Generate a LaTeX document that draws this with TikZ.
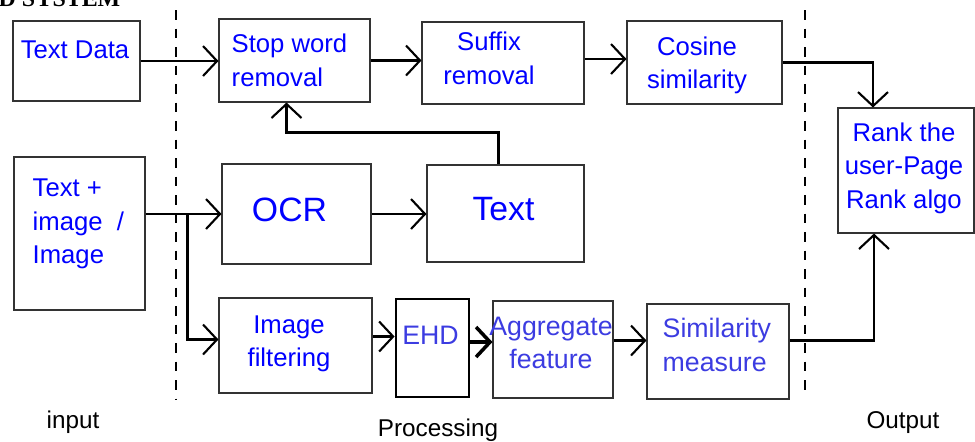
\documentclass[tikz,border=0pt]{standalone}
\usepackage{fontspec}
\setmainfont{Liberation Sans}
\newfontfamily\headfont{Liberation Serif}
\usetikzlibrary{arrows.meta,calc}
\definecolor{softblue}{RGB}{60,60,225}
\tikzset{
	box/.style 2 args={draw=black!80, line width=0.3pt, minimum width=#1*0.01cm, minimum height=#2*0.01cm, inner sep=0pt},
	txt/.style={text=blue, font=\fontsize{7.3pt}{9.5pt}\selectfont, inner sep=0pt, align=center},
	bigtxt/.style={text=blue, font=\fontsize{9.6pt}{11pt}\selectfont, inner sep=0pt},
	lowtxt/.style={txt, text=softblue, font=\fontsize{7.6pt}{9.5pt}\selectfont},
	arr/.style={line width=0.6pt, -{Straight Barb[length=1.4mm, width=3mm]}},
	divider/.style={line width=0.35pt, dash pattern=on 0.95mm off 0.9mm},
	lbl/.style={font=\fontsize{6.9pt}{8pt}\selectfont, inner sep=0pt}
}
\begin{document}
\begin{tikzpicture}[x=0.01cm,y=-0.01cm]
	
	\useasboundingbox (0,0) rectangle (975,441);
	\clip (0,0) rectangle (975,441);
	
	\node[anchor=base east, inner sep=0pt, font=\headfont\bfseries\fontsize{6.8pt}{8pt}\selectfont] (head) at (121,6) {D SYSTEM};
	
	\draw[divider] (176,10) -- (176,399);
	\draw[divider] (805,10) -- (805,392);
	
	% boxes
	\node[box={127}{80}] (tdata) at (76.5,61) {};
	\node[box={151}{83}] (stop) at (294.5,60.5) {};
	\node[box={162}{82}] (suffix) at (503,63) {};
	\node[box={155}{83}] (cosine) at (704.5,62.5) {};
	\node[box={136}{125}] (rank) at (906,170.5) {};
	\node[box={131}{153}] (tin) at (79.5,233.5) {};
	\node[box={149}{100}] (ocr) at (296.5,214) {};
	\node[box={157}{97}] (text) at (505.5,213.5) {};
	\node[box={153}{95}] (filt) at (295.5,345.5) {};
	\node[box={73}{98}, draw=black, line width=0.8pt] (ehd) at (432.5,348) {};
	\node[box={120}{97}] (aggr) at (553,349.5) {};
	\node[box={142}{95}] (simm) at (718,351.5) {};
	
	% texts
	\node[txt] (tdata-t) at (75,50) {Text Data};
	\node[txt, align=left, anchor=west] (stop-t) at (231,60.5) {Stop word\\removal};
	\node[txt] (suffix-t) at (489,58.5) {Suffix\\removal};
	\node[txt] (cosine-t) at (697,65.5) {Cosine\\similarity};
	\node[txt] (rank-t) at (904,168) {Rank the\\user-Page\\Rank algo};
	\node[txt, align=left, anchor=west] (tin-t) at (32,224) {Text +\\image\ \ /\\Image};
	\node[bigtxt] (ocr-t) at (289.5,210) {OCR};
	\node[bigtxt] (text-t) at (503.5,209) {Text};
	\node[txt] (filt-t) at (289,344) {Image\\filtering};
	\node[lowtxt] (ehd-t) at (430.5,335) {EHD};
	\node[lowtxt] (aggr-t) at (551,343) {Aggregate\\feature};
	\node[lowtxt, align=left, anchor=west] (simm-t) at (662,345) {Similarity\\measure};
	
	\node[lbl] (in-l) at (73,422) {input};
	\node[lbl] (proc-l) at (438,430) {Processing};
	\node[lbl] (out-l) at (903,423) {Output};
	
	% connectors
	\draw[arr] (tdata.east) -- (tdata.east -| stop.west);
	\draw[arr] (stop.east) -- (stop.east -| suffix.west);
	\draw[arr] ($(suffix.east)+(0,-4)$) -- ($(suffix.east -| cosine.west)+(0,-4)$);
	\draw[arr] (cosine.east) -| ($(rank.north)+(-33,0)$);
	\draw[arr] ($(text.north)+(-7,0)$) -- ++(0,-32) -| ($(stop.south)+(-8,0)$);
	\coordinate (fork) at ($(tin.east |- ocr.west)+(42,0)$);
	\draw[arr] (tin.east |- ocr.west) -- (ocr.west);
	\draw[arr] (fork) |- ($(filt.west)+(0,-6)$);
	\draw[arr] (ocr.east) -- (ocr.east -| text.west);
	\draw[arr] ($(filt.east)+(0,-9)$) -- ($(filt.east -| ehd.west)+(0,-9)$);
	\draw[arr, line width=1pt] ($(ehd.east)+(0,-6)$) -- ($(ehd.east -| aggr.west)+(0,-6)$);
	\draw[arr] ($(aggr.east)+(0,-9)$) -- ($(aggr.east -| simm.west)+(0,-9)$);
	\draw[arr] ($(simm.east)+(0,-11)$) -| ($(rank.south)+(-32,0)$);
\end{tikzpicture}
\end{document}
